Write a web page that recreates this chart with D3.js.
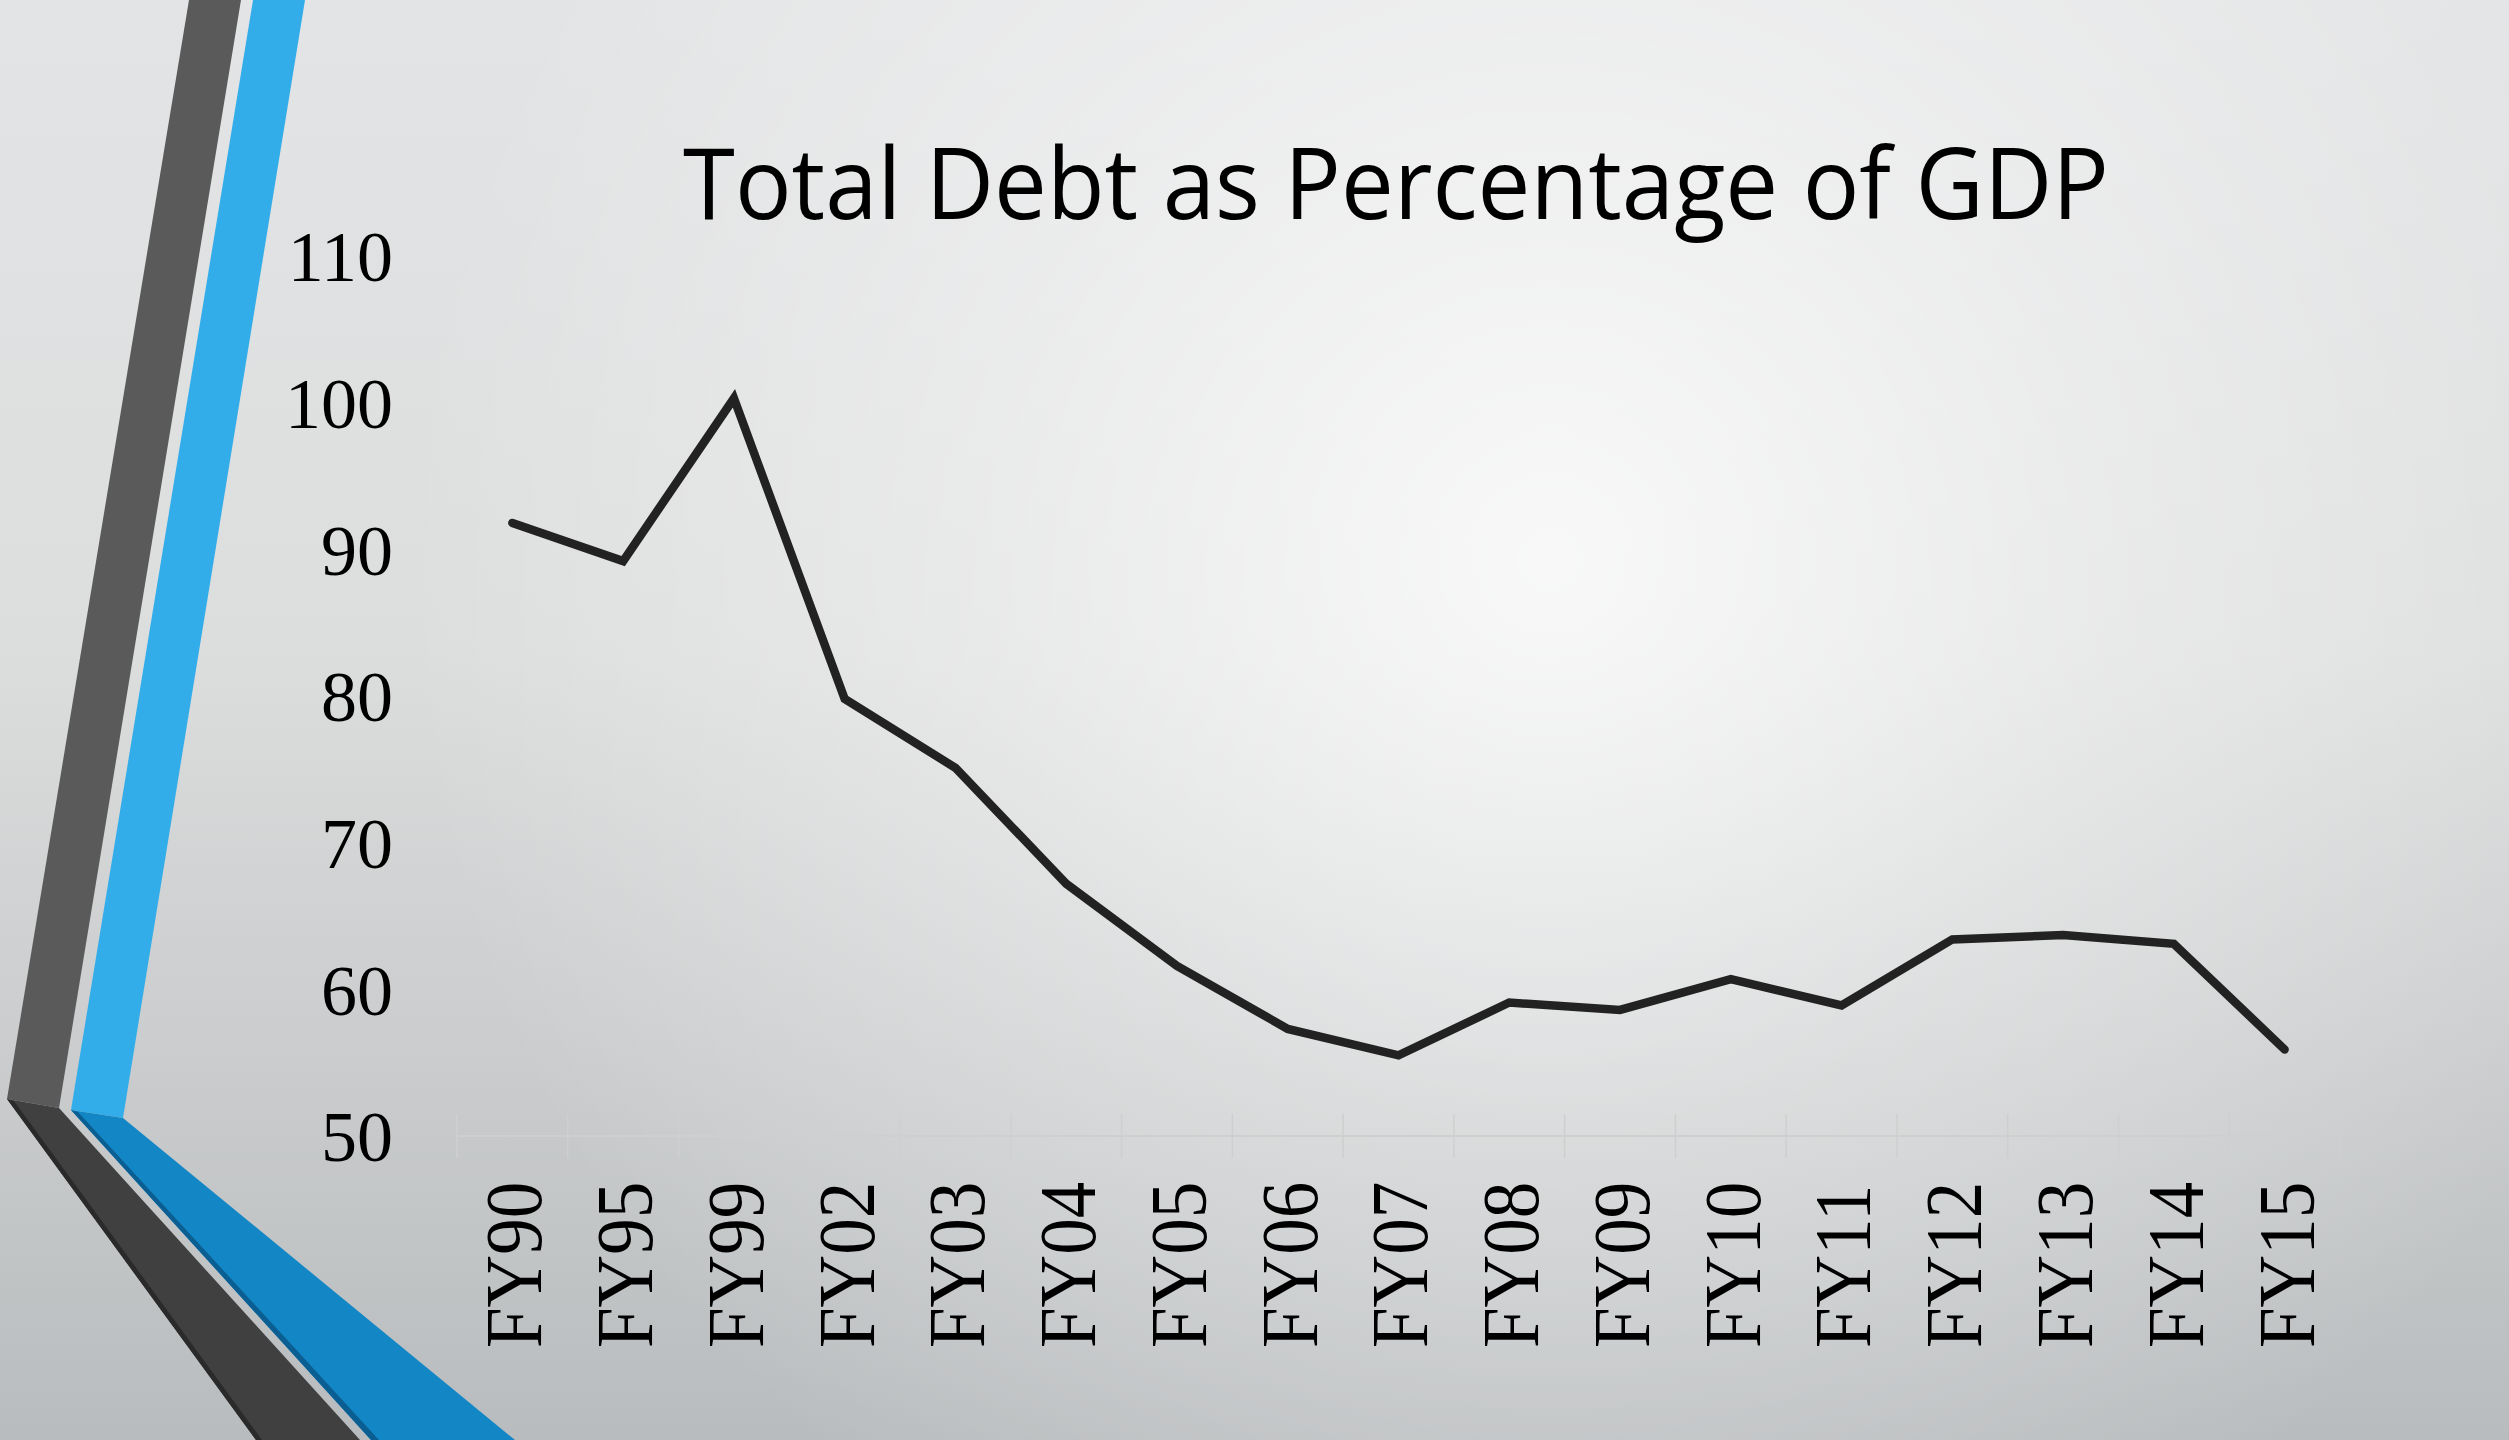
<!DOCTYPE html>
<html>
<head>
<meta charset="utf-8">
<script src="https://cdn.jsdelivr.net/npm/d3@7/dist/d3.min.js"></script>
<style>
  body { margin: 0; overflow: hidden; background: #e4e5e6; }
</style>
</head>
<body>
<div id="visual"></div>
<script>
var years = ["FY90", "FY95", "FY99", "FY02", "FY03", "FY04", "FY05", "FY06", "FY07",
  "FY08", "FY09", "FY10", "FY11", "FY12", "FY13", "FY14", "FY15"];
var debt = [91.8, 89.2, 100.3, 79.8, 75.1, 67.2, 61.6, 57.3, 55.5,
  59.1, 58.6, 60.7, 58.9, 63.4, 63.7, 63.1, 55.9];
var yTicks = [50, 60, 70, 80, 90, 100, 110];
var title = "Total Debt as Percentage of GDP";

var width = 2509,
  height = 1440;

var svg = d3
  .select("#visual")
  .append("svg")
  .attr("width", width)
  .attr("height", height);

//Background: vertical shade plus a soft highlight
var defs = svg.append("defs");
var lin = defs
  .append("linearGradient")
  .attr("id", "bgLin")
  .attr("x1", 0).attr("y1", 0)
  .attr("x2", 0).attr("y2", 1);
lin.append("stop").attr("offset", 0).attr("stop-color", "#e3e4e5");
lin.append("stop").attr("offset", 0.45).attr("stop-color", "#dcdddd");
lin.append("stop").attr("offset", 1).attr("stop-color", "#b9bcbe");

var glow = defs
  .append("radialGradient")
  .attr("id", "bgGlow")
  .attr("gradientUnits", "userSpaceOnUse")
  .attr("cx", 1550)
  .attr("cy", 560)
  .attr("r", 1150);
glow.append("stop").attr("offset", 0).attr("stop-color", "#ffffff").attr("stop-opacity", 0.8);
glow.append("stop").attr("offset", 0.5).attr("stop-color", "#ffffff").attr("stop-opacity", 0.35);
glow.append("stop").attr("offset", 1).attr("stop-color", "#ffffff").attr("stop-opacity", 0);

svg.append("rect")
  .attr("width", width)
  .attr("height", height)
  .attr("fill", "url(#bgLin)");
svg.append("rect")
  .attr("width", width)
  .attr("height", height)
  .attr("fill", "url(#bgGlow)");

//Decorative bands on the left
var bands = [
  { fill: "#5a5a5a", pts: [[189, 0], [241, 0], [59, 1108], [7, 1099]] },
  { fill: "#404040", pts: [[7, 1099], [59, 1108], [360, 1440], [256, 1440]] },
  { fill: "#2a2a2a", pts: [[7, 1099], [14, 1101], [262, 1440], [256, 1440]] },
  { fill: "#33adea", pts: [[253, 0], [305, 0], [123, 1118], [71, 1110]] },
  { fill: "#1387c5", pts: [[71, 1110], [123, 1118], [515, 1440], [371, 1440]] },
  { fill: "#0b5e92", pts: [[71, 1110], [78, 1112], [379, 1440], [371, 1440]] }
];
svg.selectAll("polygon.band")
  .data(bands)
  .enter()
  .append("polygon")
  .attr("class", "band")
  .attr("fill", d => d.fill)
  .attr("points", d => d.pts.map(p => p.join(",")).join(" "));

//Scales
var xScale = d3
  .scaleBand()
  .domain(years)
  .range([457, 2340]);

var yScale = d3
  .scaleLinear()
  .domain([50, 110])
  .range([1136, 256]);

//Category axis: baseline and boundary ticks
var axisY = yScale(50);
svg.append("line")
  .attr("x1", xScale.range()[0])
  .attr("x2", xScale.range()[1])
  .attr("y1", axisY)
  .attr("y2", axisY)
  .attr("stroke", "#cfcfcf")
  .attr("stroke-width", 2);

var bounds = years.map(d => xScale(d)).concat([xScale.range()[1]]);
svg.selectAll("line.tick")
  .data(bounds)
  .enter()
  .append("line")
  .attr("class", "tick")
  .attr("x1", d => d)
  .attr("x2", d => d)
  .attr("y1", axisY - 22)
  .attr("y2", axisY + 22)
  .attr("stroke", "#cfcfcf")
  .attr("stroke-width", 1.5);

svg.selectAll("text.xlab")
  .data(years)
  .enter()
  .append("text")
  .attr("class", "xlab")
  .attr("transform", d => "translate(" + (xScale(d) + xScale.bandwidth() / 2) + ",1348) rotate(-90) scale(1,1.1)")
  .attr("dy", "0.36em")
  .attr("text-anchor", "start")
  .attr("font-family", "'Liberation Serif', 'Times New Roman', serif")
  .attr("font-size", 73)
  .attr("fill", "#000")
  .text(d => d);

//Value axis labels
svg.selectAll("text.ylab")
  .data(yTicks)
  .enter()
  .append("text")
  .attr("class", "ylab")
  .attr("x", 393)
  .attr("y", d => yScale(d))
  .attr("dy", "0.35em")
  .attr("text-anchor", "end")
  .attr("font-family", "'Liberation Serif', 'Times New Roman', serif")
  .attr("font-size", 72)
  .attr("fill", "#000")
  .text(d => d);

//Debt line
var line = d3
  .line()
  .x((d, i) => xScale(years[i]) + xScale.bandwidth() / 2)
  .y(d => yScale(d));

svg.append("path")
  .datum(debt)
  .attr("d", line)
  .attr("fill", "none")
  .attr("stroke", "#222222")
  .attr("stroke-width", 8.5)
  .attr("stroke-linejoin", "miter")
  .attr("stroke-linecap", "round");

//Title
svg.append("text")
  .attr("x", 683)
  .attr("y", 219)
  .attr("textLength", 1426)
  .attr("lengthAdjust", "spacingAndGlyphs")
  .attr("font-family", "'Open Sans', sans-serif")
  .attr("font-size", 98)
  .attr("fill", "#000")
  .text(title);
</script>
</body>
</html>
